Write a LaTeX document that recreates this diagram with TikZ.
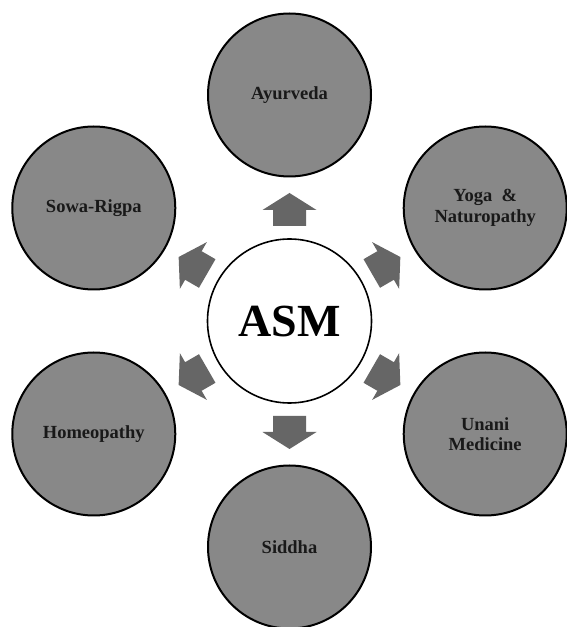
\documentclass[tikz,border=0pt]{standalone}
\usepackage{fontspec}
\setmainfont{Liberation Serif}
\definecolor{outerfill}{RGB}{136,136,136}
\definecolor{arrowfill}{RGB}{102,102,102}
\definecolor{txt}{RGB}{25,25,25}
\tikzset{
  outer/.style={circle, draw=black, line width=2pt, fill=outerfill, minimum size=163pt, inner sep=0pt,
    align=center, text=txt, font=\fontsize{18.5}{20.5}\selectfont\bfseries},
  center/.style={circle, draw=black, line width=1.6pt, fill=white, minimum size=164pt, inner sep=0pt,
    text=black, font=\fontsize{46}{50}\selectfont\bfseries},
  blockarrow/.style={fill=arrowfill}
}
\begin{document}
\begin{tikzpicture}[x=1pt,y=1pt]
\useasboundingbox[fill=white] (0,0) rectangle (566,627);
\begin{scope}[shift={(289.5,306)}]
  \node[center] (asm) at (0,0) {ASM};
  \node[outer] (ayur) at (90:226) {Ayurveda};
  \node[outer] (yoga) at (30:226) {Yoga~~\&\\Naturopathy};
  \node[outer] (unani) at (-30:226) {Unani\\Medicine};
  \node[outer] (siddha) at (-90:226) {Siddha};
  \node[outer] (homeo) at (210:226) {Homeopathy};
  \node[outer] (sowa) at (150:226) {Sowa-Rigpa};
  \foreach \a in {90,30,-30,-90,210,150}
    \fill[blockarrow, rotate=\a] (95,-16.5) -- (111,-16.5) -- (111,-27) -- (128,0) -- (111,27) -- (111,16.5) -- (95,16.5) -- cycle;
\end{scope}
\end{tikzpicture}
\end{document}
